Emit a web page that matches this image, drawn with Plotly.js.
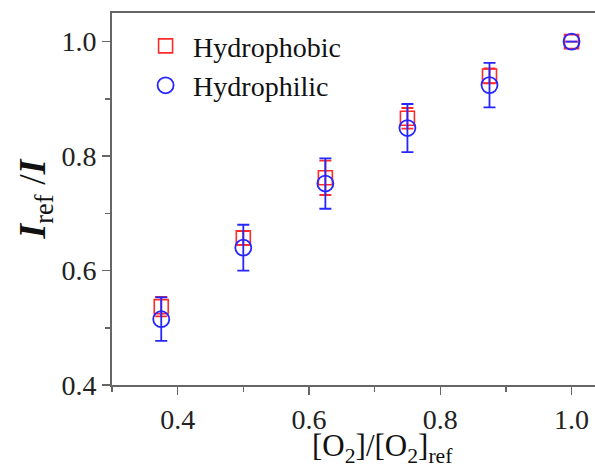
<!DOCTYPE html>
<html>
<head>
<meta charset="utf-8">
<script src="https://cdn.plot.ly/plotly-3.0.1.min.js"></script>
<style>html,body{margin:0;padding:0;background:#fff;}#chart{width:595px;height:468px;}</style>
</head>
<body>
<div id="chart"></div>
<script>
var ratio = [0.375, 0.5, 0.625, 0.75, 0.875, 1.0];
var hydrophobicY = [0.537, 0.657, 0.762, 0.866, 0.940, 1.0];
var hydrophobicErr = [0.017, 0.012, 0.030, 0.018, 0.013, 0];
var hydrophilicY = [0.515, 0.640, 0.752, 0.849, 0.924, 1.0];
var hydrophilicErr = [0.038, 0.040, 0.044, 0.042, 0.039, 0];
var xTicks = [0.4, 0.6, 0.8, 1.0];
var yTicks = [0.4, 0.6, 0.8, 1.0];
var xTitle = '[O<sub>2</sub>]/[O<sub>2</sub>]<sub>ref</sub>';
var yTitle = '<b><i>I</i></b><sub>ref</sub> /<b><i>I</i></b>';

var serif = '"Liberation Serif", "Times New Roman", Times, serif';
var traces = [
  {
    x: ratio, y: hydrophobicY, name: 'Hydrophobic', type: 'scatter', mode: 'markers',
    marker: {symbol: 'square-open', size: 14, color: '#ff2a2a', line: {width: 1.6, color: '#ff2a2a'}},
    error_y: {type: 'data', array: hydrophobicErr, visible: true, color: '#ff2a2a', thickness: 1.8, width: 6}
  },
  {
    x: ratio, y: hydrophilicY, name: 'Hydrophilic', type: 'scatter', mode: 'markers',
    marker: {symbol: 'circle-open', size: 16, color: '#2626ff', line: {width: 1.8, color: '#2626ff'}},
    error_y: {type: 'data', array: hydrophilicErr, visible: true, color: '#2626ff', thickness: 1.8, width: 6}
  }
];
var axisCommon = {
  showgrid: false, zeroline: false, showline: true, linecolor: '#666', linewidth: 2,
  ticks: 'outside', ticklen: 8, tickwidth: 1.5, tickcolor: '#666',
  tickfont: {family: serif, size: 28, color: '#222'}
};
var layout = {
  width: 595, height: 468,
  margin: {l: 112, r: 0, t: 13, b: 83},
  paper_bgcolor: '#fff', plot_bgcolor: '#fff',
  font: {family: serif},
  showlegend: true,
  legend: {x: 0.054, y: 0.978, xanchor: 'left', yanchor: 'top', bgcolor: 'rgba(0,0,0,0)',
           font: {family: serif, size: 28, color: '#111'}, itemwidth: 45, tracegroupgap: 0},
  xaxis: Object.assign({}, axisCommon, {
    range: [0.3, 1.0357], tickvals: xTicks, ticktext: xTicks.map(function(v){return v.toFixed(1);}),
    mirror: true,
    minor: {dtick: 0.1, tick0: 0.3, ticklen: 5, tickwidth: 1.5, tickcolor: '#666', ticks: 'outside'}
  }),
  yaxis: Object.assign({}, axisCommon, {
    range: [0.4, 1.05], tickvals: yTicks, ticktext: yTicks.map(function(v){return v.toFixed(1);}),
    mirror: false,
    minor: {dtick: 0.1, tick0: 0.4, ticklen: 5, tickwidth: 1.5, tickcolor: '#666', ticks: 'outside'},
    title: {text: yTitle, font: {family: serif, size: 38, color: '#111'}, standoff: 4}
  }),
  annotations: [
    {text: xTitle, xref: 'paper', yref: 'paper', x: 0.561, y: -0.17, xanchor: 'center', yanchor: 'middle',
     showarrow: false, font: {family: serif, size: 31, color: '#111'}}
  ]
};
Plotly.newPlot('chart', traces, layout, {displayModeBar: false, staticPlot: true});
</script>
</body>
</html>
